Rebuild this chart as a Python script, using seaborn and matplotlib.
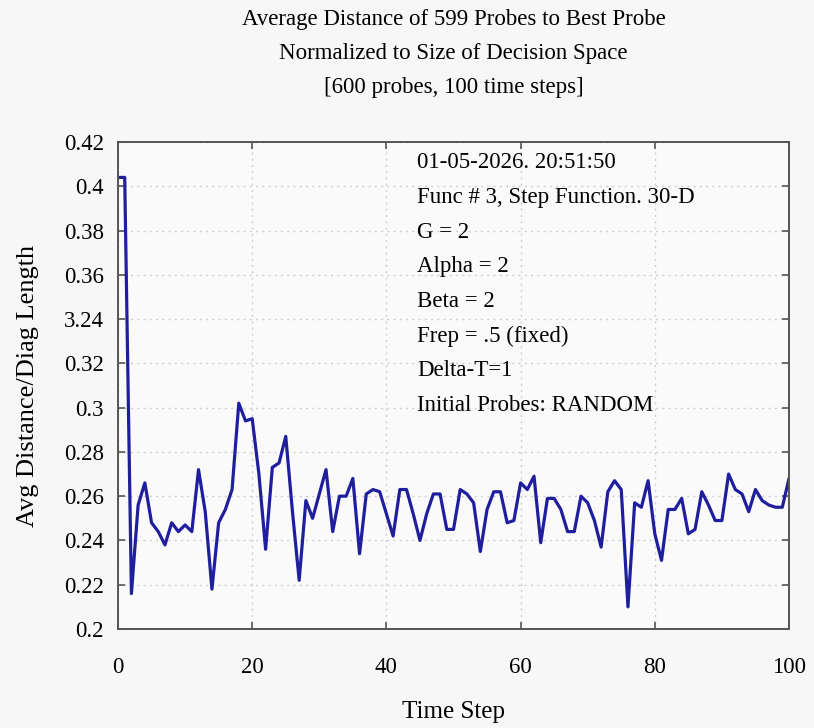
import matplotlib
matplotlib.use("Agg")
import matplotlib.pyplot as plt
import seaborn as sns
import pandas as pd
import numpy as np

# ---- data ----
time_step = list(range(0, 101))
avg_distance = [
    0.404, 0.404, 0.216, 0.256, 0.266, 0.248, 0.244, 0.238, 0.248, 0.244,   # 0-9
    0.247, 0.244, 0.272, 0.253, 0.218, 0.248, 0.254, 0.263, 0.302, 0.294,   # 10-19
    0.295, 0.270, 0.236, 0.273, 0.275, 0.287, 0.253, 0.222, 0.258, 0.250,   # 20-29
    0.261, 0.272, 0.244, 0.260, 0.260, 0.268, 0.234, 0.261, 0.263, 0.262,   # 30-39
    0.252, 0.242, 0.263, 0.263, 0.252, 0.240, 0.252, 0.261, 0.261, 0.245,   # 40-49
    0.245, 0.263, 0.261, 0.257, 0.235, 0.254, 0.262, 0.262, 0.248, 0.249,   # 50-59
    0.266, 0.263, 0.269, 0.239, 0.259, 0.259, 0.254, 0.244, 0.244, 0.260,   # 60-69
    0.257, 0.249, 0.237, 0.262, 0.267, 0.263, 0.210, 0.257, 0.255, 0.267,   # 70-79
    0.243, 0.231, 0.254, 0.254, 0.259, 0.243, 0.245, 0.262, 0.256, 0.249,   # 80-89
    0.249, 0.270, 0.263, 0.261, 0.253, 0.263, 0.258, 0.256, 0.255, 0.255,   # 90-99
    0.268,                                                                  # 100
]
y_ticks = [0.42, 0.40, 0.38, 0.36, 0.34, 0.32, 0.30, 0.28, 0.26, 0.24, 0.22, 0.20]
y_tick_labels = ["0.42", "0.4", "0.38", "0.36", "3.24", "0.32", "0.3",
                 "0.28", "0.26", "0.24", "0.22", "0.2"]
x_ticks = [0, 20, 40, 60, 80, 100]
title_lines = ["Average Distance of 599 Probes to Best Probe",
               "Normalized to Size of Decision Space",
               "[600 probes, 100 time steps]"]
info_lines = ["01-05-2026. 20:51:50",
              "Func # 3, Step Function. 30-D",
              "G = 2",
              "Alpha = 2",
              "Beta = 2",
              "Frep = .5 (fixed)",
              "Delta-T=1",
              "Initial Probes: RANDOM"]

df = pd.DataFrame({"Time Step": time_step, "Avg": avg_distance})

sns.set_style("white")
plt.rcParams['font.family'] = ['Liberation Serif', 'DejaVu Serif']

bg = "#f7f7f7"
fig = plt.figure(figsize=(8.14, 7.28), dpi=100, facecolor=bg)
ax = fig.add_axes([118/814, 1-629/728, (789-118)/814, (629-142)/728])
ax.set_facecolor("#fafafa")

sns.lineplot(data=df, x="Time Step", y="Avg", ax=ax, color="#1f1f9e",
             linewidth=2.3, estimator=None)

ax.set_xlim(0, 100)
ax.set_ylim(0.2, 0.42)
ax.set_xticks(x_ticks)
ax.set_xticklabels([str(t) for t in x_ticks])
ax.set_yticks(y_ticks)
ax.set_yticklabels(y_tick_labels)

ax.grid(True, linestyle=(0, (1.5, 3)), color="#d0d0d0", linewidth=1.0)
for s in ax.spines.values():
    s.set_color("#555555")
    s.set_linewidth(1.4)
    s.set_visible(True)

ax.tick_params(axis="both", which="major", direction="in", length=5,
               width=1.2, color="#555555", labelsize=16.5, labelcolor="black",
               top=True, right=True, left=True, bottom=True)
ax.tick_params(axis="x", pad=20)
ax.tick_params(axis="y", pad=10)

ax.set_xlabel("Time Step", fontsize=18, labelpad=17, color="black")
ax.set_ylabel("Avg Distance/Diag Length", fontsize=19, labelpad=18, color="black")

# multi-line title centred on the axes
xc = (118 + 789) / 2 / 814
for i, line in enumerate(title_lines):
    fig.text(xc, 1 - (20 + i * 34) / 728, line, ha="center", va="center",
             fontsize=16.5, color="black")

# information block inside the axes
for i, line in enumerate(info_lines):
    fig.text(417/814, 1 - (163 + i * 34.6) / 728, line, ha="left",
             va="center", fontsize=16.5, color="black")

fig.savefig("out.png", dpi=100, facecolor=bg)
